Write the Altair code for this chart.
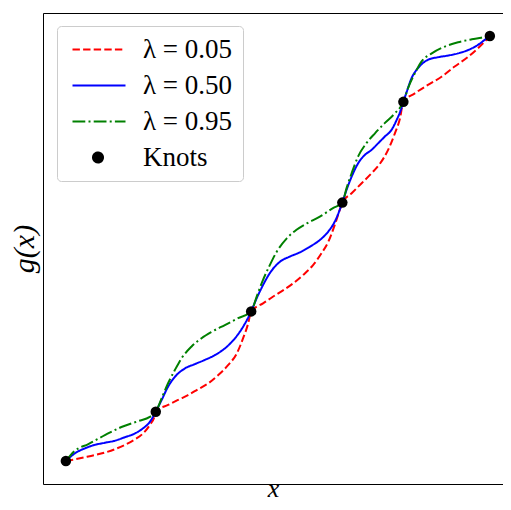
import altair as alt
import pandas as pd

# ---- data (x, y in arbitrary 0..100 units) ----
knot_x = [0, 21.2, 43.7, 65.2, 79.6, 100]
knot_y = [0, 11.6, 35.2, 60.8, 84.5, 100]

red_x = [0, 2.1, 4.5, 6.8, 9.2, 11.6, 13.9, 16.3, 18.2, 19.8, 21.0, 21.2,
         24.1, 26.5, 28.8, 31.2, 33.6, 35.9, 38.3, 40.3, 41.8, 43.0, 43.7,
         46.5, 48.9, 51.3, 53.6, 56.0, 58.3, 60.3, 61.9, 63.4, 64.6, 65.2,
         67.4, 69.7, 72.1, 74.1, 76.0, 77.6, 78.8, 79.6,
         82.3, 85.4, 88.6, 91.7, 94.9, 97.2, 98.8, 100]
red_y = [0, 0.4, 0.9, 1.4, 2.0, 2.8, 3.8, 5.1, 6.5, 8.5, 10.8, 11.6,
         13.2, 14.4, 15.5, 16.9, 18.3, 20.2, 22.6, 25.3, 28.9, 32.4, 35.2,
         37.1, 38.7, 40.2, 41.8, 43.8, 46.1, 48.9, 51.6, 55.5, 59.1, 60.8,
         63.0, 65.3, 67.7, 70.0, 73.2, 77.1, 80.6, 84.5,
         86.5, 88.5, 90.4, 92.8, 95.1, 97.1, 98.7, 100]

blue_x = [0, 2.1, 4.5, 6.8, 9.2, 11.6, 13.9, 16.3, 18.2, 19.8, 21.2,
          22.6, 24.1, 25.7, 28.1, 30.4, 32.8, 35.1, 37.5, 39.9, 41.8, 43.7,
          45.0, 46.5, 48.1, 50.5, 52.8, 55.2, 57.5, 59.9, 61.9, 63.4, 64.6, 65.2,
          66.2, 67.4, 68.9, 70.5, 72.1, 73.7, 75.2, 76.8, 78.0, 79.0, 79.6,
          80.4, 81.5, 83.1, 85.4, 87.8, 90.2, 92.5, 94.9, 97.2, 98.8, 100]
blue_y = [0, 1.8, 3.0, 3.8, 4.3, 4.8, 5.6, 6.5, 7.7, 9.2, 11.6,
          14.4, 17.5, 19.8, 21.8, 22.8, 23.8, 24.9, 26.5, 28.9, 31.6, 35.2,
          38.3, 41.4, 44.2, 46.9, 48.1, 49.1, 50.4, 52.0, 54.0, 56.3, 59.1, 60.8,
          63.8, 66.9, 70.0, 72.0, 73.2, 74.8, 76.3, 77.9, 80.2, 82.6, 84.5,
          86.9, 90.0, 92.5, 94.4, 95.0, 95.4, 95.9, 96.7, 97.9, 99.1, 100]

green_x = [0, 2.1, 5.3, 9.2, 13.1, 17.1, 19.8, 21.2,
           22.6, 24.1, 25.7, 27.3, 29.6, 32.0, 34.4, 37.5, 40.6, 43.7,
           45.0, 46.5, 48.1, 49.7, 52.1, 54.4, 56.8, 59.9, 63.0, 65.2,
           66.2, 67.4, 68.9, 70.9, 72.9, 75.2, 77.6, 79.6,
           80.7, 82.3, 83.9, 86.3, 89.4, 92.5, 95.7, 98.0, 100]
green_y = [0, 2.4, 4.0, 6.1, 8.0, 9.4, 10.4, 11.6,
           14.8, 18.3, 21.4, 24.2, 26.9, 28.9, 30.4, 32.0, 33.6, 35.2,
           38.7, 42.6, 46.1, 49.2, 52.4, 54.4, 55.9, 57.5, 59.5, 60.8,
           64.2, 67.7, 71.6, 74.8, 77.1, 79.5, 81.8, 84.5,
           87.7, 91.2, 94.0, 95.9, 97.5, 98.5, 99.2, 99.6, 100]

series_names = ["λ = 0.05", "λ = 0.50", "λ = 0.95", "Knots"]
series_colors = ["#ff0000", "#0000ff", "#008000", "#000000"]

rows = []
for name, xs_, ys_ in [(series_names[0], red_x, red_y),
                       (series_names[1], blue_x, blue_y),
                       (series_names[2], green_x, green_y)]:
    for i, (xv, yv) in enumerate(zip(xs_, ys_)):
        rows.append({"x": xv, "y": yv, "series": name, "i": i})
lines_df = pd.DataFrame(rows)
knots_df = pd.DataFrame({"x": knot_x, "y": knot_y, "series": "Knots"})

# legend symbol shapes (unit = 5 px with symbolSize 100)
line_sym = "M-1.6,0L9.0,0"
dot_sym = "M2.5,0A1,1,0,1,1,4.5,0A1,1,0,1,1,2.5,0Z"

FONT = "Liberation Serif"
color_scale = alt.Scale(domain=series_names, range=series_colors)
dash_scale = alt.Scale(domain=series_names,
                       range=[[7.4, 3.2], [1, 0], [12.8, 3.2, 2, 3.2], [1, 0]])
shape_scale = alt.Scale(domain=series_names,
                        range=[line_sym, line_sym, line_sym, dot_sym])

legend = alt.Legend(title=None, orient="none", legendX=14, legendY=13,
                    symbolSize=100, symbolStrokeWidth=2,
                    labelFont=FONT, labelFontSize=27, labelColor="black",
                    labelOffset=49, rowPadding=8, padding=10,
                    fillColor="white", strokeColor="#cccccc", cornerRadius=4)

XDOM = [-5.4, 103.1]
YDOM = [-5.4, 105.4]
xscale = alt.Scale(domain=XDOM, nice=False, zero=False)
yscale = alt.Scale(domain=YDOM, nice=False, zero=False)

x_bottom = alt.X("x:Q", scale=xscale,
                 axis=alt.Axis(title="x", orient="bottom", labels=False, ticks=False,
                               grid=False, domain=True, domainColor="black",
                               domainWidth=1, titleFont=FONT, titleFontSize=26,
                               titleFontStyle="italic", titleFontWeight="normal",
                               titleColor="black", titleBaseline="alphabetic",
                               titlePadding=12.5))
x_top = alt.X("x:Q", scale=xscale,
              axis=alt.Axis(title=None, orient="top", labels=False, ticks=False,
                            grid=False, domain=True, domainColor="black",
                            domainWidth=1))
y_left = alt.Y("y:Q", scale=yscale,
               axis=alt.Axis(title="g(x)", labels=False, ticks=False, grid=False,
                             domain=True, domainColor="black", domainWidth=1,
                             titleFont=FONT, titleFontSize=30,
                             titleFontStyle="italic", titleFontWeight="normal",
                             titleColor="black", titlePadding=4))

line_layer = alt.Chart(lines_df).mark_line(strokeWidth=2, interpolate="monotone").encode(
    x=x_bottom, y=y_left,
    color=alt.Color("series:N", scale=color_scale, legend=legend),
    strokeDash=alt.StrokeDash("series:N", scale=dash_scale, legend=legend),
    order="i:Q",
)

# legend-only layer (no rows drawn), also carries the top frame line
legend_layer = alt.Chart(knots_df).transform_filter("false").mark_point(
    filled=True, size=100, opacity=1).encode(
    x=x_top, y=alt.Y("y:Q", scale=yscale),
    color=alt.Color("series:N", scale=color_scale, legend=legend),
    shape=alt.Shape("series:N", scale=shape_scale, legend=legend),
)

knot_layer = alt.Chart(knots_df).mark_circle(size=110, opacity=1, color="black").encode(
    x=alt.X("x:Q", scale=xscale, axis=None),
    y=alt.Y("y:Q", scale=yscale),
)

chart = alt.layer(line_layer, legend_layer, knot_layer).resolve_axis(
    x="independent"
).properties(
    width=460, height=471,
    autosize=alt.AutoSizeParams(type="none"),
    padding={"left": 35, "top": 5, "right": 0, "bottom": 18},
).configure_view(stroke=None).configure(background="white")

chart.save("out.html", embed_options={"renderer": "svg", "actions": False})
